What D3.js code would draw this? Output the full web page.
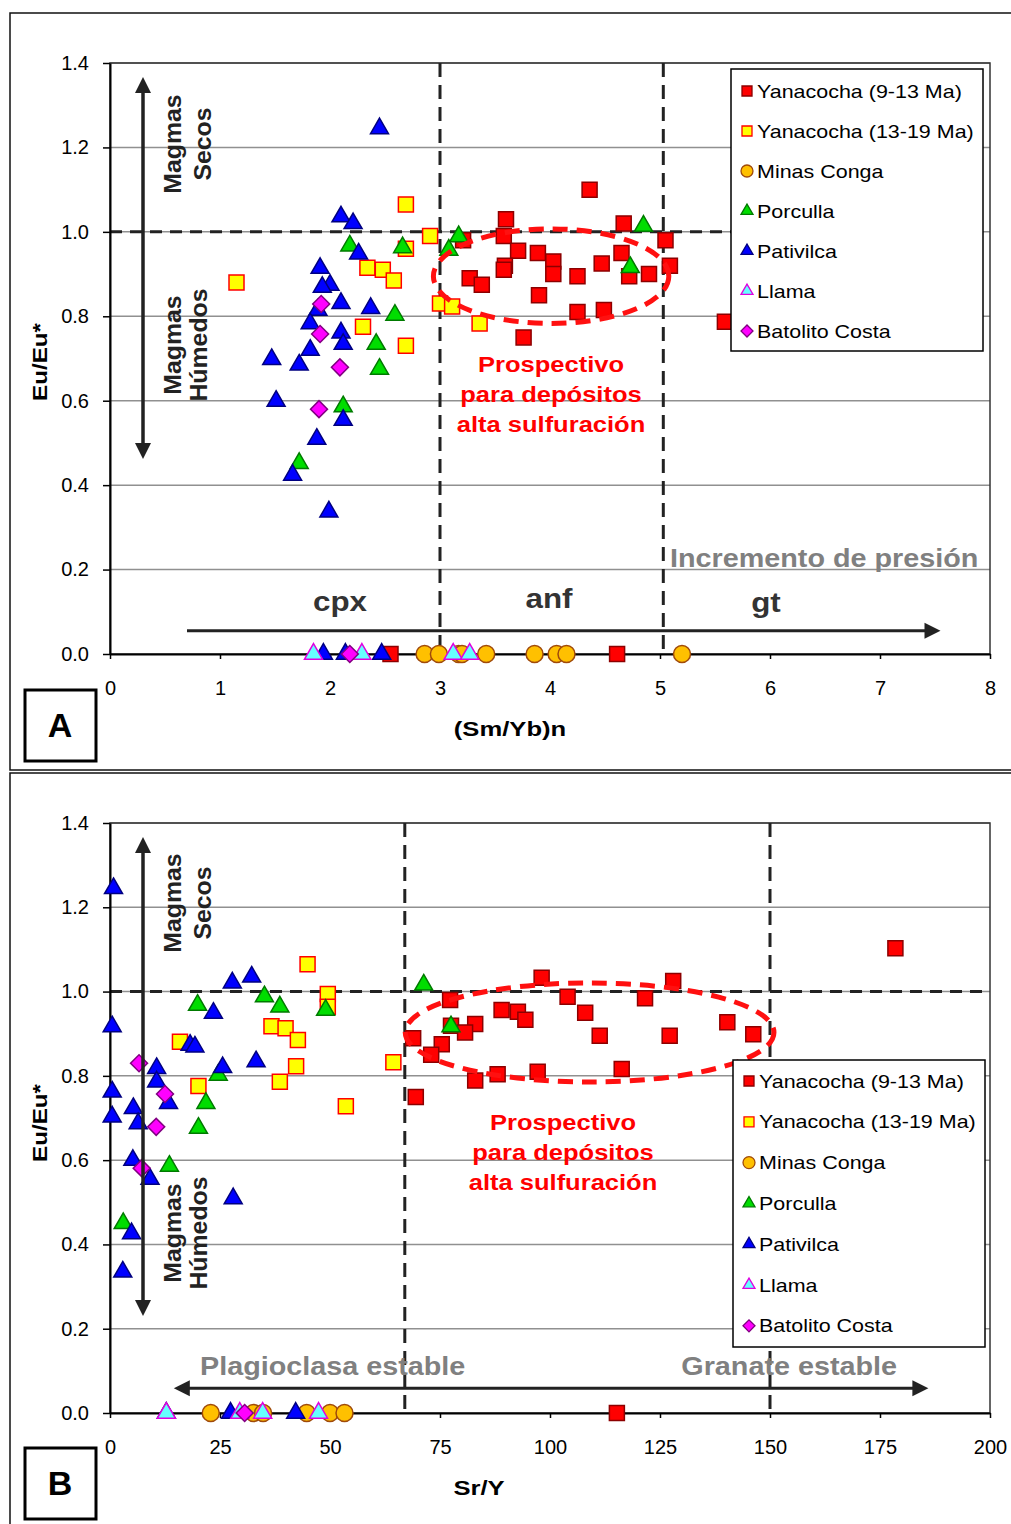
<!DOCTYPE html>
<html>
<head>
<meta charset="utf-8">
<script src="https://cdn.jsdelivr.net/npm/d3@7"></script>
<style>
body { margin: 0; background: #fff; }
text { font-family: "Liberation Sans", Arial, sans-serif; }
</style>
</head>
<body>
<div id="chart"></div>
<script>
// legend / series names (same order in both panels)
const seriesNames = ["Yanacocha (9-13 Ma)", "Yanacocha (13-19 Ma)", "Minas Conga",
    "Porculla", "Pativilca", "Llama", "Batolito Costa"];

// ---- panel A: x = (Sm/Yb)n, y = Eu/Eu*
const aYana913 = [[4.36,1.10],[3.60,1.03],[4.67,1.02],[3.58,0.99],[5.05,0.98],[3.21,0.98],[3.71,0.955],
    [3.89,0.95],[4.03,0.93],[4.65,0.95],[5.09,0.92],[4.47,0.925],[3.59,0.92],[3.58,0.91],[4.03,0.90],
    [4.25,0.895],[4.72,0.895],[4.90,0.90],[3.27,0.89],[3.38,0.875],[3.90,0.85],[4.25,0.81],[4.49,0.815],
    [3.76,0.75],[5.59,0.787],[4.61,0],[2.55,0]];
const aYana1319 = [[2.69,1.065],[2.91,0.99],[2.69,0.96],[2.34,0.915],[2.48,0.91],[2.58,0.885],[1.15,0.88],
    [2.30,0.775],[2.69,0.73],[3.00,0.83],[3.11,0.823],[3.36,0.783]];
const aConga = [[2.86,0],[2.99,0],[3.17,0],[3.20,0],[3.42,0],[3.86,0],[4.06,0],[4.15,0],[5.20,0]];
const aPorculla = [[2.18,0.967],[2.66,0.963],[2.59,0.803],[2.42,0.734],[2.45,0.675],[2.12,0.586],[1.72,0.452],
    [3.17,0.989],[3.08,0.957],[4.85,1.014],[4.73,0.916]];
const aPativilca = [[2.45,1.245],[2.10,1.036],[2.21,1.02],[2.26,0.948],[1.91,0.914],[2.00,0.874],[1.93,0.869],
    [2.10,0.831],[2.37,0.819],[1.89,0.815],[1.82,0.783],[2.10,0.761],[2.12,0.734],[1.82,0.72],[1.47,0.698],
    [1.72,0.685],[1.51,0.599],[2.12,0.554],[1.88,0.509],[1.66,0.424],[1.99,0.337],[1.94,0],[2.14,0],[2.47,0]];
const aLlama = [[1.85,0],[2.29,0],[3.12,0],[3.27,0]];
const aBatolito = [[1.92,0.829],[1.91,0.758],[2.09,0.679],[1.90,0.58],[2.18,0]];
const aXTicks = [0, 1, 2, 3, 4, 5, 6, 7, 8];

// ---- panel B: x = Sr/Y, y = Eu/Eu*
const bYana913 = [[178.5,1.103],[98.1,1.033],[128.0,1.025],[104.0,0.988],[121.6,0.984],[77.3,0.98],[89.0,0.956],
    [92.7,0.952],[94.4,0.933],[108.0,0.95],[83.0,0.923],[77.5,0.919],[80.7,0.903],[140.3,0.927],[146.2,0.899],
    [111.3,0.895],[127.2,0.895],[68.9,0.889],[75.4,0.875],[73.0,0.85],[88.1,0.804],[97.2,0.81],[116.3,0.816],
    [83.0,0.789],[69.5,0.75],[115.2,0]];
const bYana1319 = [[44.9,1.065],[49.5,0.994],[49.5,0.964],[36.7,0.918],[39.9,0.913],[42.7,0.885],[15.9,0.881],
    [42.3,0.823],[64.4,0.832],[20.1,0.776],[38.6,0.786],[53.6,0.728]];
const bConga = [[22.9,0],[32.6,0],[34.8,0],[44.7,0],[50.0,0],[53.3,0]];
const bPorculla = [[19.9,0.968],[35.1,0.988],[38.6,0.964],[49.0,0.956],[24.6,0.802],[21.8,0.735],[20.1,0.676],
    [13.5,0.586],[3.0,0.45],[71.3,1.016],[77.5,0.917]];
const bPativilca = [[0.8,1.245],[27.8,1.021],[32.2,1.035],[23.5,0.949],[0.5,0.917],[18.2,0.873],[19.3,0.869],
    [25.6,0.82],[33.2,0.834],[10.6,0.818],[10.6,0.786],[0.5,0.762],[13.3,0.735],[5.3,0.723],[0.5,0.703],
    [6.4,0.687],[5.2,0.6],[9.1,0.555],[28.0,0.509],[4.9,0.426],[2.9,0.335],[12.8,0],[27.4,0],[42.2,0]];
const bLlama = [[12.8,0],[29.5,0],[34.7,0],[47.4,0]];
const bBatolito = [[6.6,0.83],[12.5,0.757],[10.5,0.679],[7.2,0.581],[30.6,0]];
const bXTicks = [0, 25, 50, 75, 100, 125, 150, 175, 200];

const yTicks = [0, 0.2, 0.4, 0.6, 0.8, 1.0, 1.2, 1.4];

const styles = [
    { sym: "square", fill: "#ff0000", stroke: "#8c0000" },
    { sym: "square", fill: "#ffff00", stroke: "#ff0000" },
    { sym: "circle", fill: "#ffc000", stroke: "#a04a0a" },
    { sym: "triangle", fill: "#00dd00", stroke: "#007a00" },
    { sym: "triangle", fill: "#0000ff", stroke: "#000080" },
    { sym: "triangle", fill: "#66ffff", stroke: "#e000e0" },
    { sym: "diamond", fill: "#ff00ff", stroke: "#800080" }
];

function symPath(kind, s) {
    if (kind === "square") return d3.symbol(d3.symbolSquare, s * s)();
    if (kind === "circle") return d3.symbol(d3.symbolCircle, Math.PI * s * s / 4)();
    if (kind === "triangle") return d3.symbol(d3.symbolTriangle, s * s * Math.sqrt(3) / 4)();
    return d3.symbol(d3.symbolSquare, s * s / 2)(); // diamond, rotated below
}
const markSize = { square: 15, circle: 17, triangle: 18, diamond: 17 };

const W = 1011, H = 1524;
const svg = d3.select("#chart").append("svg").attr("width", W).attr("height", H);

// text helper: (x,y) is the visual centre, sx widens glyphs like the original
function label(g, str, x, y, o) {
    o = o || {};
    return g.append("text")
        .attr("transform", "translate(" + x + "," + y + ")" + (o.rot ? " rotate(" + o.rot + ")" : "") +
            " scale(" + (o.sx || 1) + ",1)")
        .attr("text-anchor", o.anchor || "middle")
        .attr("dy", "0.35em")
        .style("font-size", o.size + "px")
        .style("font-weight", o.bold ? "bold" : "normal")
        .attr("fill", o.color || "#000")
        .text(str);
}

function arrowHead(g, tipX, tipY, dir) {
    // dir: "up","down","left","right"
    const L = 16, hw = 8;
    let pts;
    if (dir === "up") pts = [[tipX, tipY], [tipX - hw, tipY + L], [tipX + hw, tipY + L]];
    if (dir === "down") pts = [[tipX, tipY], [tipX - hw, tipY - L], [tipX + hw, tipY - L]];
    if (dir === "left") pts = [[tipX, tipY], [tipX + L, tipY - hw], [tipX + L, tipY + hw]];
    if (dir === "right") pts = [[tipX, tipY], [tipX - L, tipY - hw], [tipX - L, tipY + hw]];
    g.append("path").attr("d", "M" + pts.join("L") + "Z").attr("fill", "#222");
}

function drawPanel(p) {
    const g = svg.append("g");
    // outer frame
    g.append("rect").attr("x", 10).attr("y", p.frameY).attr("width", 1010).attr("height", p.frameH)
        .attr("fill", "none").attr("stroke", "#111").attr("stroke-width", 1.5);

    const x = d3.scaleLinear().domain(p.xDomain).range([110, 990]);
    const y = d3.scaleLinear().domain([0, 1.4]).range([p.bottom, p.top]);

    // gridlines
    g.append("g").selectAll("line").data(yTicks.slice(1)).join("line")
        .attr("x1", 110).attr("x2", 990).attr("y1", d => y(d)).attr("y2", d => y(d))
        .attr("stroke", "#909090").attr("stroke-width", 1.5);
    // plot border
    g.append("rect").attr("x", 110).attr("y", p.top).attr("width", 880).attr("height", p.bottom - p.top)
        .attr("fill", "none").attr("stroke", "#333").attr("stroke-width", 1.5);

    // dashed reference lines
    g.append("line").attr("x1", x(p.xDomain[0])).attr("x2", x(p.xDomain[1]))
        .attr("y1", y(1.0)).attr("y2", y(1.0))
        .attr("stroke", "#222").attr("stroke-width", 3).attr("stroke-dasharray", "12,8");
    g.append("g").selectAll("line").data(p.vLines).join("line")
        .attr("x1", d => x(d)).attr("x2", d => x(d)).attr("y1", p.top).attr("y2", p.bottom)
        .attr("stroke", "#222").attr("stroke-width", 3).attr("stroke-dasharray", "14,8");

    // axes
    const yAxis = g.append("g").attr("transform", "translate(110,0)")
        .call(d3.axisLeft(y).tickValues(yTicks).tickFormat(d3.format(".1f")).tickSize(7).tickSizeOuter(0).tickPadding(14));
    const xAxis = g.append("g").attr("transform", "translate(0," + p.bottom + ")")
        .call(d3.axisBottom(x).tickValues(p.xTicks).tickSize(5).tickSizeOuter(0).tickPadding(22));
    [yAxis, xAxis].forEach(a => {
        a.select(".domain").attr("stroke", "#000").attr("stroke-width", 2);
        a.selectAll(".tick line").attr("stroke", "#000").attr("stroke-width", 1.5);
        a.selectAll(".tick text").style("font-size", "20px").attr("fill", "#000");
    });

    // markers
    p.data.forEach((arr, i) => {
        const st = styles[i];
        const path = symPath(st.sym, markSize[st.sym]);
        g.append("g").selectAll("path").data(arr).join("path")
            .attr("d", path)
            .attr("transform", d => "translate(" + x(d[0]) + "," + y(d[1]) + ")" + (st.sym === "diamond" ? " rotate(45)" : ""))
            .attr("fill", st.fill).attr("stroke", st.stroke).attr("stroke-width", 1.5);
    });

    // prospective ellipse
    const e = p.ellipse;
    g.append("ellipse")
        .attr("cx", x(e.cx)).attr("cy", y(e.cy))
        .attr("rx", x(e.cx + e.rx) - x(e.cx)).attr("ry", y(e.cy - e.ry) - y(e.cy))
        .attr("fill", "none").attr("stroke", "#ff1010").attr("stroke-width", 5).attr("stroke-dasharray", "15,9");

    // vertical wet/dry arrow
    const va = p.vArrow;
    g.append("line").attr("x1", x(va.x)).attr("x2", x(va.x)).attr("y1", y(va.y1) + 14).attr("y2", y(va.y0) - 14)
        .attr("stroke", "#222").attr("stroke-width", 3.5);
    arrowHead(g, x(va.x), y(va.y1), "up");
    arrowHead(g, x(va.x), y(va.y0), "down");

    // horizontal arrow
    const ha = p.hArrow;
    g.append("line").attr("x1", x(ha.x0) + (ha.both ? 14 : 0)).attr("x2", x(ha.x1) - 14)
        .attr("y1", y(ha.y)).attr("y2", y(ha.y))
        .attr("stroke", "#222").attr("stroke-width", 3);
    arrowHead(g, x(ha.x1), y(ha.y), "right");
    if (ha.both) arrowHead(g, x(ha.x0), y(ha.y), "left");

    // texts
    const mg = { size: 23, bold: true, color: "#222", rot: -90, sx: 1.08 };
    label(g, "Magmas", 173, p.secosY, mg);
    label(g, "Secos", 203, p.secosY, mg);
    label(g, "Magmas", 173, p.humY, mg);
    label(g, "Húmedos", 199, p.humY, mg);

    label(g, "Eu/Eu*", 40, p.yTitleY, { size: 21, bold: true, rot: -90, sx: 1.15 });
    label(g, p.xTitle, p.xTitleX, p.xTitleY, { size: 21, bold: true, sx: 1.22 });

    p.prosp.forEach((s, k) => label(g, s, p.prospX, p.prospY + k * 30, { size: 22, bold: true, color: "#ff0000", sx: 1.16 }));

    // panel letter
    g.append("rect").attr("x", 25).attr("y", p.letterY - 35).attr("width", 71).attr("height", 71)
        .attr("fill", "#fff").attr("stroke", "#000").attr("stroke-width", 3);
    label(g, p.letter, 60, p.letterY, { size: 34, bold: true });

    // legend
    const lg = p.legend;
    g.append("rect").attr("x", lg.x).attr("y", lg.y).attr("width", lg.w).attr("height", lg.h)
        .attr("fill", "#fff").attr("stroke", "#000").attr("stroke-width", 1.5);
    seriesNames.forEach((name, i) => {
        const st = styles[i];
        const cy = lg.row0 + i * lg.step;
        g.append("path").attr("d", symPath(st.sym, st.sym === "square" ? 10 : 12))
            .attr("transform", "translate(" + (lg.x + 16) + "," + cy + ")" + (st.sym === "diamond" ? " rotate(45)" : ""))
            .attr("fill", st.fill).attr("stroke", st.stroke).attr("stroke-width", 1.3);
        label(g, name, lg.x + 26, cy, { size: 19, anchor: "start", sx: 1.13 });
    });

    return { g: g, x: x, y: y };
}

// ---------------- panel A
const A = drawPanel({
    frameY: 13, frameH: 757, top: 63, bottom: 654,
    xDomain: [0, 8], xTicks: aXTicks,
    data: [aYana913, aYana1319, aConga, aPorculla, aPativilca, aLlama, aBatolito],
    vLines: [3.0, 5.03],
    ellipse: { cx: 4.01, cy: 0.895, rx: 1.07, ry: 0.112 },
    vArrow: { x: 0.3, y0: 0.462, y1: 1.367 },
    hArrow: { x0: 0.7, x1: 7.55, y: 0.055, both: false },
    secosY: 144, humY: 345, yTitleY: 362,
    xTitle: "(Sm/Yb)n", xTitleX: 510, xTitleY: 729,
    prosp: ["Prospectivo", "para depósitos", "alta sulfuración"], prospX: 551, prospY: 364,
    letter: "A", letterY: 725,
    legend: { x: 731, y: 69, w: 252, h: 282, row0: 91, step: 40 }
});
label(A.g, "cpx", 340, 601, { size: 28, bold: true, color: "#333", sx: 1.12 });
label(A.g, "anf", 549, 598, { size: 28, bold: true, color: "#333", sx: 1.12 });
label(A.g, "gt", 766, 602, { size: 28, bold: true, color: "#333", sx: 1.12 });
label(A.g, "Incremento de presión", 670, 558, { size: 25, bold: true, color: "#808080", anchor: "start", sx: 1.15 });

// ---------------- panel B
const B = drawPanel({
    frameY: 773, frameH: 760, top: 823, bottom: 1413,
    xDomain: [0, 200], xTicks: bXTicks,
    data: [bYana913, bYana1319, bConga, bPorculla, bPativilca, bLlama, bBatolito],
    vLines: [67, 150],
    ellipse: { cx: 109, cy: 0.903, rx: 41.9, ry: 0.1175 },
    vArrow: { x: 7.5, y0: 0.23, y1: 1.367 },
    hArrow: { x0: 14.5, x1: 186, y: 0.059, both: true },
    secosY: 903, humY: 1233, yTitleY: 1123,
    xTitle: "Sr/Y", xTitleX: 479, xTitleY: 1488,
    prosp: ["Prospectivo", "para depósitos", "alta sulfuración"], prospX: 563, prospY: 1122,
    letter: "B", letterY: 1483,
    legend: { x: 733, y: 1060, w: 252, h: 287, row0: 1081, step: 40.8 }
});
label(B.g, "Plagioclasa estable", 200, 1366, { size: 25, bold: true, color: "#808080", anchor: "start", sx: 1.15 });
label(B.g, "Granate estable", 897, 1366, { size: 25, bold: true, color: "#808080", anchor: "end", sx: 1.15 });
</script>
</body>
</html>
